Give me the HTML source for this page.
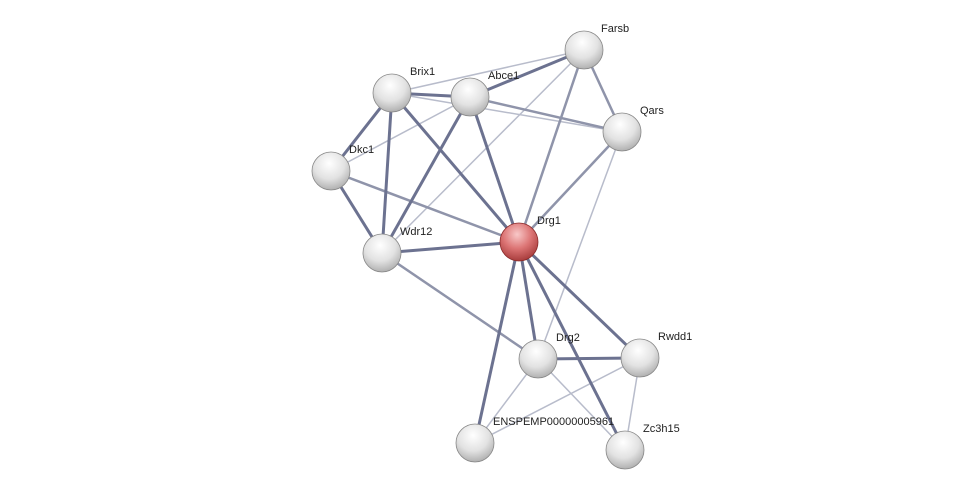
<!DOCTYPE html>
<html><head><style>body{margin:0;background:#fff}svg{display:block}text{font-family:"Liberation Sans",sans-serif;font-size:11px;fill:#222}</style></head><body>
<svg width="975" height="495" viewBox="0 0 975 495">
<defs>
<radialGradient id="g" cx="45%" cy="30%" r="75%"><stop offset="0" stop-color="#ffffff"/><stop offset="0.55" stop-color="#e2e2e2"/><stop offset="1" stop-color="#a8a8a8"/></radialGradient>
<radialGradient id="r" cx="45%" cy="30%" r="75%"><stop offset="0" stop-color="#f8c8c8"/><stop offset="0.5" stop-color="#dc7474"/><stop offset="1" stop-color="#a03434"/></radialGradient>
</defs>
<g stroke="#b8bccb" stroke-width="1.5">
<line x1="392" y1="93" x2="584" y2="50"/><line x1="392" y1="93" x2="622" y2="132"/>
<line x1="331" y1="171" x2="470" y2="97"/><line x1="382" y1="253" x2="584" y2="50"/>
<line x1="622" y1="132" x2="538" y2="359"/><line x1="538" y1="359" x2="625" y2="450"/>
<line x1="538" y1="359" x2="475" y2="443"/><line x1="640" y1="358" x2="475" y2="443"/>
<line x1="640" y1="358" x2="625" y2="450"/>
</g>
<g stroke="#8f94aa" stroke-width="2.5">
<line x1="584" y1="50" x2="622" y2="132"/><line x1="331" y1="171" x2="519" y2="242"/>
<line x1="382" y1="253" x2="538" y2="359"/><line x1="622" y1="132" x2="519" y2="242"/>
<line x1="584" y1="50" x2="519" y2="242"/><line x1="470" y1="97" x2="622" y2="132"/>
</g>
<g stroke="#6c7290" stroke-width="3">
<line x1="392" y1="93" x2="470" y2="97"/><line x1="470" y1="97" x2="584" y2="50"/>
<line x1="392" y1="93" x2="331" y2="171"/><line x1="392" y1="93" x2="382" y2="253"/>
<line x1="470" y1="97" x2="382" y2="253"/><line x1="470" y1="97" x2="519" y2="242"/>
<line x1="392" y1="93" x2="519" y2="242"/><line x1="331" y1="171" x2="382" y2="253"/>
<line x1="382" y1="253" x2="519" y2="242"/><line x1="519" y1="242" x2="538" y2="359"/>
<line x1="519" y1="242" x2="640" y2="358"/><line x1="519" y1="242" x2="475" y2="443"/>
<line x1="519" y1="242" x2="625" y2="450"/><line x1="538" y1="359" x2="640" y2="358"/>
</g>
<g stroke="#888" stroke-width="0.8">
<circle cx="584" cy="50" r="19" fill="url(#g)"/><circle cx="392" cy="93" r="19" fill="url(#g)"/>
<circle cx="470" cy="97" r="19" fill="url(#g)"/><circle cx="622" cy="132" r="19" fill="url(#g)"/>
<circle cx="331" cy="171" r="19" fill="url(#g)"/><circle cx="382" cy="253" r="19" fill="url(#g)"/>
<circle cx="519" cy="242" r="19" fill="url(#r)" stroke="#8a2a2a"/><circle cx="538" cy="359" r="19" fill="url(#g)"/>
<circle cx="640" cy="358" r="19" fill="url(#g)"/><circle cx="475" cy="443" r="19" fill="url(#g)"/>
<circle cx="625" cy="450" r="19" fill="url(#g)"/>
</g>
<text x="601" y="32">Farsb</text><text x="410" y="75">Brix1</text><text x="488" y="79">Abce1</text>
<text x="640" y="114">Qars</text><text x="349" y="153">Dkc1</text><text x="400" y="235">Wdr12</text>
<text x="537" y="224">Drg1</text><text x="556" y="341">Drg2</text><text x="658" y="340">Rwdd1</text>
<text x="493" y="425">ENSPEMP00000005961</text><text x="643" y="432">Zc3h15</text>
</svg>
</body></html>
